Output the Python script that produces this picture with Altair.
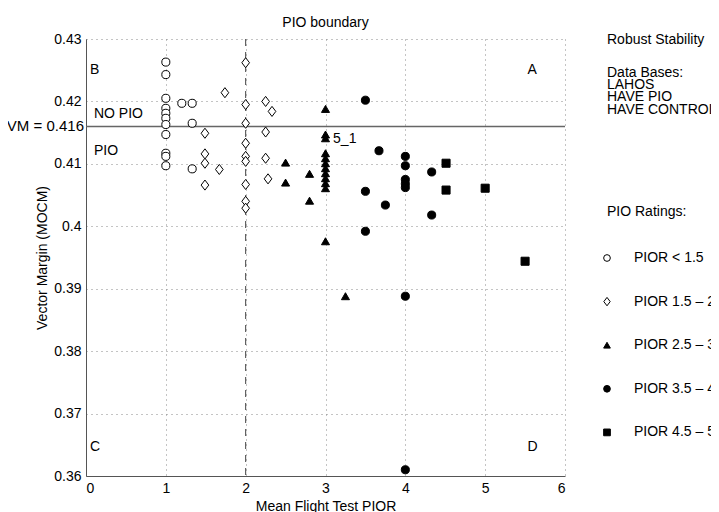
import altair as alt
import pandas as pd

# ---- data ----
groups = ["PIOR < 1.5", "PIOR 1.5 – 2.", "PIOR 2.5 – 3.", "PIOR 3.5 – 4.", "PIOR 4.5 – 5"]

g1_x = [1, 1, 1, 1, 1, 1, 1, 1, 1, 1, 1, 1.2, 1.33, 1.33, 1.33]
g1_y = [0.4263, 0.4243, 0.4205, 0.4189, 0.4181, 0.4173, 0.4163, 0.4147, 0.4117, 0.4112, 0.4097,
        0.4197, 0.4197, 0.4165, 0.4092]

g2_x = [2, 2, 2, 2, 2, 2, 2, 2, 2, 1.74, 2.25, 2.25, 2.25, 2.33, 1.49, 1.49, 1.49, 1.49, 1.67, 2.28]
g2_y = [0.4262, 0.4195, 0.4165, 0.4133, 0.4112, 0.4104, 0.4067, 0.4040, 0.4029, 0.4214,
        0.4200, 0.4151, 0.4109, 0.4184, 0.4149, 0.4116, 0.4101, 0.4066, 0.4091, 0.4076]

g3_x = [2.5, 2.5, 2.8, 2.8, 3, 3, 3, 3, 3, 3, 3, 3, 3, 3, 3, 3, 3.25]
g3_y = [0.4102, 0.4070, 0.4084, 0.4041, 0.4188, 0.4147, 0.4141, 0.4117, 0.4109, 0.4101,
        0.4093, 0.4085, 0.4077, 0.4069, 0.4061, 0.3976, 0.3888]

g4_x = [3.5, 3.5, 3.5, 3.67, 3.75, 4, 4, 4, 4, 4, 4, 4, 4.33, 4.33]
g4_y = [0.4202, 0.4056, 0.3992, 0.4121, 0.4034, 0.4112, 0.4097, 0.4075, 0.4068, 0.4062,
        0.3888, 0.3610, 0.4087, 0.4018]

g5_x = [4.51, 4.51, 5.0, 5.5]
g5_y = [0.4101, 0.4058, 0.4061, 0.3944]

x_ticks = [0, 1, 2, 3, 4, 5, 6]
y_ticks = [0.36, 0.37, 0.38, 0.39, 0.40, 0.41, 0.42, 0.43]

vm_boundary = 0.416
pio_boundary_x = 2

region_labels = ["A", "B", "C", "D", "NO PIO", "PIO", "5_1"]
region_x = [5.53, 0.05, 0.05, 5.53, 0.1, 0.1, 3.095]
region_y = [0.4251, 0.4251, 0.3647, 0.3647, 0.418, 0.412, 0.414]

side_lines = ["Robust Stability", "Data Bases:", "LAHOS", "HAVE PIO", "HAVE CONTROL", "PIO Ratings:"]

# ---- build tables ----
rows = []
for g, xs, ys in zip(groups, [g1_x, g2_x, g3_x, g4_x, g5_x], [g1_y, g2_y, g3_y, g4_y, g5_y]):
    for a, b in zip(xs, ys):
        rows.append({"PIOR": a, "VM": b, "group": g})
pts = pd.DataFrame(rows)
ann = pd.DataFrame({"label": region_labels, "x": region_x, "y": region_y})

FONT = "Liberation Sans"
FS = 14
W, H = 479, 437

diamond_path = "M0,-1.25L0.95,0L0,1.25L-0.95,0Z"

xscale = alt.Scale(domain=[0, 6], nice=False)
yscale = alt.Scale(domain=[0.36, 0.43], nice=False, zero=False)

legend_def = alt.Legend(
    title=None, orient="none", legendX=514, legendY=212,
    rowPadding=29.6, labelOffset=20, symbolSize=45, symbolStrokeColor="black",
    symbolStrokeWidth=1, labelFont=FONT, labelFontSize=FS, labelColor="black",
    labelLimit=200,
)

points = alt.Chart(pts).mark_point(size=65, strokeWidth=1, opacity=1, filled=False).encode(
    x=alt.X("PIOR:Q", scale=xscale,
            axis=alt.Axis(values=x_ticks, title="Mean Flight Test PIOR", format="d")),
    y=alt.Y("VM:Q", scale=yscale,
            axis=alt.Axis(values=y_ticks, title="Vector Margin (MOCM)", format="~g")),
    shape=alt.Shape("group:N", scale=alt.Scale(
        domain=groups, range=["circle", diamond_path, "triangle-up", "circle", "square"]),
        legend=legend_def),
    fill=alt.Fill("group:N", scale=alt.Scale(
        domain=groups, range=["white", "white", "black", "black", "black"]),
        legend=legend_def),
    stroke=alt.Stroke("group:N", scale=alt.Scale(
        domain=groups, range=["black", "black", "black", "black", "black"]),
        legend=legend_def),
)

hline = alt.Chart(pd.DataFrame({"v": [vm_boundary]})).mark_rule(
    color="#666666", strokeWidth=1.5).encode(y=alt.Y("v:Q", scale=yscale))

vline = alt.Chart(pd.DataFrame({"v": [pio_boundary_x]})).mark_rule(
    color="#444444", strokeWidth=1, strokeDash=[7, 6]).encode(x=alt.X("v:Q", scale=xscale))

ann_text = alt.Chart(ann).mark_text(
    align="left", baseline="middle", font=FONT, fontSize=FS, color="black").encode(
    x=alt.X("x:Q", scale=xscale), y=alt.Y("y:Q", scale=yscale), text="label:N")

vm_text = alt.Chart(pd.DataFrame({"v": [vm_boundary], "t": ["VM = 0.416"]})).mark_text(
    align="right", baseline="middle", font=FONT, fontSize=15, color="black", dx=-2).encode(
    x=alt.value(0), y=alt.Y("v:Q", scale=yscale), text="t:N")

side_y = [1, 33.7, 46, 58.3, 70.5, 173]
side_layers = []
for t, yy in zip(side_lines, side_y):
    side_layers.append(
        alt.Chart(pd.DataFrame({"t": [t]})).mark_text(
            align="left", baseline="middle", font=FONT, fontSize=FS, color="black").encode(
            x=alt.value(521), y=alt.value(yy), text="t:N"))

chart = alt.layer(hline, vline, points, ann_text, vm_text, *side_layers).properties(
    width=W, height=H,
    title=alt.TitleParams("PIO boundary", font=FONT, fontSize=FS, fontWeight="normal",
                          color="black", anchor="middle", offset=2),
    autosize=alt.AutoSizeParams(type="none"),
    padding={"left": 78, "top": 31, "right": 146, "bottom": 40},
).configure_view(stroke=None).configure_axis(
    grid=True, gridDash=[1, 4], gridColor="#888888", gridWidth=1,
    domainColor="#555555", domainWidth=1, ticks=False,
    labelFont=FONT, labelFontSize=FS, labelColor="black", labelPadding=5,
    titleFont=FONT, titleFontSize=FS, titleFontWeight="normal", titleColor="black",
).configure_axisX(titlePadding=4).configure_axisY(titlePadding=4)

chart.save("out.html", embed_options={"renderer": "svg", "actions": False})
